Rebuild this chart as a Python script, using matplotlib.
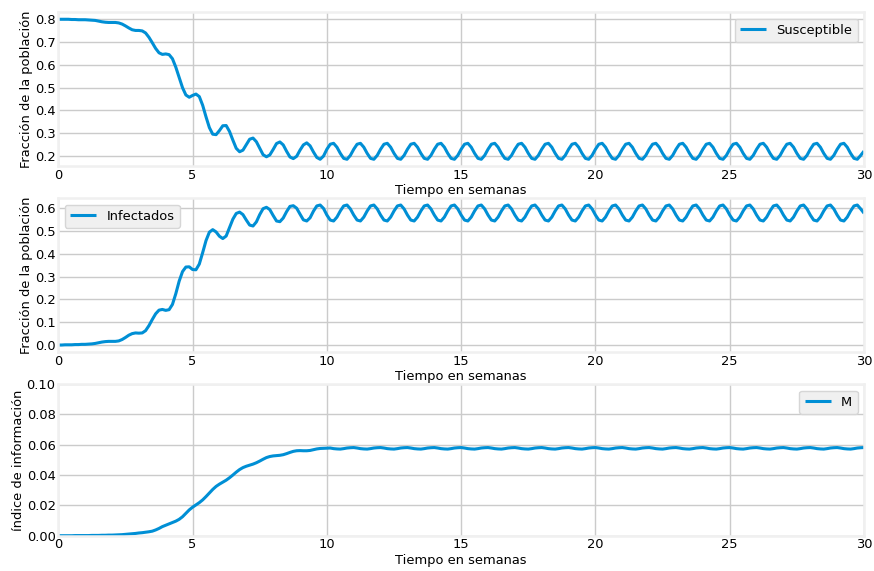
import numpy as np
import matplotlib
matplotlib.use("Agg")
import matplotlib.pyplot as plt

# sample times (weeks), 8 samples per week
weeks = np.linspace(0, 30, 241)

# ---- Susceptible (one row per week) ----
susceptible_rows = [
    [0.800, 0.800, 0.800, 0.800, 0.799, 0.799, 0.798, 0.798],
    [0.798, 0.797, 0.796, 0.795, 0.792, 0.789, 0.787, 0.786],
    [0.786, 0.786, 0.784, 0.779, 0.771, 0.762, 0.754, 0.751],
    [0.751, 0.749, 0.740, 0.721, 0.697, 0.672, 0.653, 0.646],
    [0.648, 0.645, 0.627, 0.590, 0.545, 0.500, 0.468, 0.458],
    [0.466, 0.472, 0.461, 0.423, 0.372, 0.325, 0.296, 0.294],
    [0.312, 0.333, 0.334, 0.308, 0.270, 0.234, 0.219, 0.226],
    [0.250, 0.274, 0.279, 0.263, 0.234, 0.206, 0.197, 0.205],
    [0.229, 0.255, 0.262, 0.249, 0.221, 0.196, 0.189, 0.199],
    [0.226, 0.249, 0.258, 0.245, 0.218, 0.194, 0.186, 0.200],
    [0.230, 0.252, 0.256, 0.239, 0.212, 0.190, 0.186, 0.203],
    [0.230, 0.252, 0.256, 0.239, 0.212, 0.190, 0.186, 0.203],
    [0.230, 0.252, 0.256, 0.239, 0.212, 0.190, 0.186, 0.203],
    [0.230, 0.252, 0.256, 0.239, 0.212, 0.190, 0.186, 0.203],
    [0.230, 0.252, 0.256, 0.239, 0.212, 0.190, 0.186, 0.203],
    [0.230, 0.252, 0.256, 0.239, 0.212, 0.190, 0.186, 0.203],
    [0.230, 0.252, 0.256, 0.239, 0.212, 0.190, 0.186, 0.203],
    [0.230, 0.252, 0.256, 0.239, 0.212, 0.190, 0.186, 0.203],
    [0.230, 0.252, 0.256, 0.239, 0.212, 0.190, 0.186, 0.203],
    [0.230, 0.252, 0.256, 0.239, 0.212, 0.190, 0.186, 0.203],
    [0.230, 0.252, 0.256, 0.239, 0.212, 0.190, 0.186, 0.203],
    [0.230, 0.252, 0.256, 0.239, 0.212, 0.190, 0.186, 0.203],
    [0.230, 0.252, 0.256, 0.239, 0.212, 0.190, 0.186, 0.203],
    [0.230, 0.252, 0.256, 0.239, 0.212, 0.190, 0.186, 0.203],
    [0.230, 0.252, 0.256, 0.239, 0.212, 0.190, 0.186, 0.203],
    [0.230, 0.252, 0.256, 0.239, 0.212, 0.190, 0.186, 0.203],
    [0.230, 0.252, 0.256, 0.239, 0.212, 0.190, 0.186, 0.203],
    [0.230, 0.252, 0.256, 0.239, 0.212, 0.190, 0.186, 0.203],
    [0.230, 0.252, 0.256, 0.239, 0.212, 0.190, 0.186, 0.203],
    [0.230, 0.252, 0.256, 0.239, 0.212, 0.190, 0.186, 0.203],
    [0.222],
]

# ---- Infectados ----
infected_rows = [
    [0.000, 0.000, 0.001, 0.001, 0.001, 0.002, 0.002, 0.003],
    [0.003, 0.004, 0.005, 0.007, 0.010, 0.013, 0.015, 0.016],
    [0.016, 0.016, 0.018, 0.024, 0.033, 0.043, 0.050, 0.053],
    [0.052, 0.053, 0.063, 0.085, 0.112, 0.137, 0.153, 0.156],
    [0.152, 0.155, 0.178, 0.225, 0.280, 0.322, 0.342, 0.343],
    [0.331, 0.330, 0.355, 0.405, 0.458, 0.495, 0.506, 0.496],
    [0.477, 0.467, 0.478, 0.515, 0.552, 0.577, 0.583, 0.572],
    [0.548, 0.526, 0.522, 0.540, 0.572, 0.598, 0.604, 0.594],
    [0.568, 0.544, 0.541, 0.557, 0.585, 0.608, 0.611, 0.600],
    [0.574, 0.549, 0.544, 0.558, 0.587, 0.610, 0.614, 0.599],
    [0.570, 0.548, 0.544, 0.561, 0.588, 0.610, 0.614, 0.597],
    [0.570, 0.548, 0.544, 0.561, 0.588, 0.610, 0.614, 0.597],
    [0.570, 0.548, 0.544, 0.561, 0.588, 0.610, 0.614, 0.597],
    [0.570, 0.548, 0.544, 0.561, 0.588, 0.610, 0.614, 0.597],
    [0.570, 0.548, 0.544, 0.561, 0.588, 0.610, 0.614, 0.597],
    [0.570, 0.548, 0.544, 0.561, 0.588, 0.610, 0.614, 0.597],
    [0.570, 0.548, 0.544, 0.561, 0.588, 0.610, 0.614, 0.597],
    [0.570, 0.548, 0.544, 0.561, 0.588, 0.610, 0.614, 0.597],
    [0.570, 0.548, 0.544, 0.561, 0.588, 0.610, 0.614, 0.597],
    [0.570, 0.548, 0.544, 0.561, 0.588, 0.610, 0.614, 0.597],
    [0.570, 0.548, 0.544, 0.561, 0.588, 0.610, 0.614, 0.597],
    [0.570, 0.548, 0.544, 0.561, 0.588, 0.610, 0.614, 0.597],
    [0.570, 0.548, 0.544, 0.561, 0.588, 0.610, 0.614, 0.597],
    [0.570, 0.548, 0.544, 0.561, 0.588, 0.610, 0.614, 0.597],
    [0.570, 0.548, 0.544, 0.561, 0.588, 0.610, 0.614, 0.597],
    [0.570, 0.548, 0.544, 0.561, 0.588, 0.610, 0.614, 0.597],
    [0.570, 0.548, 0.544, 0.561, 0.588, 0.610, 0.614, 0.597],
    [0.570, 0.548, 0.544, 0.561, 0.588, 0.610, 0.614, 0.597],
    [0.570, 0.548, 0.544, 0.561, 0.588, 0.610, 0.614, 0.597],
    [0.570, 0.548, 0.544, 0.561, 0.588, 0.610, 0.614, 0.597],
    [0.578],
]

# ---- M (indice de informacion) ----
info_rows = [
    [0.0000, 0.0000, 0.0000, 0.0000, 0.0000, 0.0001, 0.0001, 0.0001],
    [0.0001, 0.0001, 0.0002, 0.0002, 0.0002, 0.0003, 0.0003, 0.0004],
    [0.0004, 0.0005, 0.0006, 0.0007, 0.0009, 0.0011, 0.0013, 0.0015],
    [0.0018, 0.0020, 0.0023, 0.0026, 0.0030, 0.0038, 0.0048, 0.0060],
    [0.0069, 0.0078, 0.0087, 0.0096, 0.0108, 0.0125, 0.0147, 0.0170],
    [0.0188, 0.0203, 0.0218, 0.0236, 0.0258, 0.0282, 0.0305, 0.0325],
    [0.0340, 0.0353, 0.0366, 0.0382, 0.0400, 0.0419, 0.0436, 0.0449],
    [0.0458, 0.0465, 0.0472, 0.0481, 0.0492, 0.0504, 0.0515, 0.0522],
    [0.0526, 0.0528, 0.0530, 0.0534, 0.0541, 0.0549, 0.0556, 0.0560],
    [0.0561, 0.0560, 0.0560, 0.0562, 0.0567, 0.0572, 0.0575, 0.0576],
    [0.0577, 0.0578, 0.0574, 0.0572, 0.0571, 0.0574, 0.0578, 0.0580],
    [0.0581, 0.0578, 0.0574, 0.0572, 0.0571, 0.0574, 0.0578, 0.0580],
    [0.0581, 0.0578, 0.0574, 0.0572, 0.0571, 0.0574, 0.0578, 0.0580],
    [0.0581, 0.0578, 0.0574, 0.0572, 0.0571, 0.0574, 0.0578, 0.0580],
    [0.0581, 0.0578, 0.0574, 0.0572, 0.0571, 0.0574, 0.0578, 0.0580],
    [0.0581, 0.0578, 0.0574, 0.0572, 0.0571, 0.0574, 0.0578, 0.0580],
    [0.0581, 0.0578, 0.0574, 0.0572, 0.0571, 0.0574, 0.0578, 0.0580],
    [0.0581, 0.0578, 0.0574, 0.0572, 0.0571, 0.0574, 0.0578, 0.0580],
    [0.0581, 0.0578, 0.0574, 0.0572, 0.0571, 0.0574, 0.0578, 0.0580],
    [0.0581, 0.0578, 0.0574, 0.0572, 0.0571, 0.0574, 0.0578, 0.0580],
    [0.0581, 0.0578, 0.0574, 0.0572, 0.0571, 0.0574, 0.0578, 0.0580],
    [0.0581, 0.0578, 0.0574, 0.0572, 0.0571, 0.0574, 0.0578, 0.0580],
    [0.0581, 0.0578, 0.0574, 0.0572, 0.0571, 0.0574, 0.0578, 0.0580],
    [0.0581, 0.0578, 0.0574, 0.0572, 0.0571, 0.0574, 0.0578, 0.0580],
    [0.0581, 0.0578, 0.0574, 0.0572, 0.0571, 0.0574, 0.0578, 0.0580],
    [0.0581, 0.0578, 0.0574, 0.0572, 0.0571, 0.0574, 0.0578, 0.0580],
    [0.0581, 0.0578, 0.0574, 0.0572, 0.0571, 0.0574, 0.0578, 0.0580],
    [0.0581, 0.0578, 0.0574, 0.0572, 0.0571, 0.0574, 0.0578, 0.0580],
    [0.0581, 0.0578, 0.0574, 0.0572, 0.0571, 0.0574, 0.0578, 0.0580],
    [0.0581, 0.0578, 0.0574, 0.0572, 0.0571, 0.0574, 0.0578, 0.0580],
    [0.0581],
]

susceptible = [v for row in susceptible_rows for v in row]
infected = [v for row in infected_rows for v in row]
info = [v for row in info_rows for v in row]

x_ticks = [0, 5, 10, 15, 20, 25, 30]
s_yticks = [0.2, 0.3, 0.4, 0.5, 0.6, 0.7, 0.8]
i_yticks = [0.0, 0.1, 0.2, 0.3, 0.4, 0.5, 0.6]
m_yticks = [0.0, 0.02, 0.04, 0.06, 0.08, 0.10]
m_yticklabels = ["0.00", "0.02", "0.04", "0.06", "0.08", "0.10"]
xlabel = "Tiempo en semanas"
ylabel_frac = "Fracción de la población"
ylabel_info = "índice de información"

LINE_COLOR = "#008fd5"
FS = 9.4

plt.rcParams["font.family"] = ["DejaVu Sans"]

fig = plt.figure(figsize=(8.74, 5.71), dpi=100, facecolor="white")
positions = [
    [0.0667, 0.7088, 0.9219, 0.2697],
    [0.0667, 0.3835, 0.9219, 0.2697],
    [0.0667, 0.0618, 0.9219, 0.2657],
]

panels = [
    (susceptible, "Susceptible", ylabel_frac, "upper right", s_yticks),
    (infected, "Infectados", ylabel_frac, "upper left", i_yticks),
    (info, "M", ylabel_info, "upper right", m_yticks),
]

for pos, (vals, lab, ylab, loc, yt) in zip(positions, panels):
    ax = fig.add_axes(pos)
    ax.set_facecolor("white")
    ax.set_axisbelow(True)
    ax.grid(True, color="#cbcbcb", linewidth=1.0)
    for sp in ax.spines.values():
        sp.set_color("#f0f0f0")
        sp.set_linewidth(1.8)
    ax.plot(weeks, vals, color=LINE_COLOR, linewidth=2.2, label=lab,
            solid_capstyle="butt")
    ax.set_xlim(0, 30)
    ax.set_xticks(x_ticks)
    ax.set_yticks(yt)
    ax.tick_params(axis="both", length=0, labelsize=FS, pad=2)
    ax.set_xlabel(xlabel, fontsize=FS, labelpad=1.5)
    ax.set_ylabel(ylab, fontsize=FS, labelpad=1.0)
    leg = ax.legend(loc=loc, fontsize=FS, fancybox=True, framealpha=1)
    leg.get_frame().set_facecolor("#f0f0f0")
    leg.get_frame().set_edgecolor("#d6d6d6")
    if lab == "M":
        ax.set_ylim(0, 0.1)
        ax.set_yticklabels(m_yticklabels)

fig.savefig("out.png", dpi=100, facecolor="white")
